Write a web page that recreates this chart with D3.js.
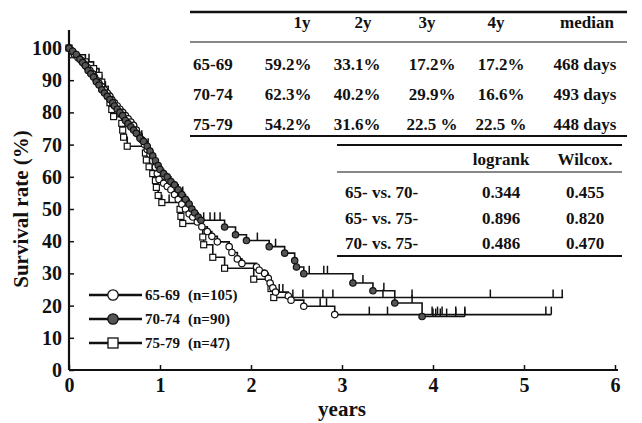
<!DOCTYPE html>
<html>
<head>
<meta charset="utf-8">
<script src="https://cdn.jsdelivr.net/npm/d3@7"></script>
<style>
  body { margin: 0; background: #fff; }
  svg text { font-family: "Liberation Serif", "Times New Roman", serif; font-weight: bold; fill: #111; }
</style>
</head>
<body>
<div id="chart"></div>
<script>
// ---- data ----
// Kaplan-Meier events [years, survival %] for each age group
var g65Events = [[0.03,99],[0.06,98],[0.1,97],[0.14,96],[0.17,95],[0.2,94],[0.23,93],[0.26,92],[0.28,91],[0.3,90],
  [0.33,89],[0.36,88],[0.39,87],[0.42,86],[0.45,85],[0.47,84],[0.5,83],[0.53,82],[0.56,81],[0.59,80],
  [0.62,79],[0.65,78],[0.68,77],[0.71,76],[0.74,74.5],[0.77,73],[0.8,71.5],[0.83,70],[0.86,68.5],[0.89,67],
  [0.92,65],[0.95,63],[0.97,61],[0.99,59.2],[1.04,58],[1.08,57],[1.12,56],[1.16,54.5],[1.2,53],[1.24,51.5],
  [1.28,50],[1.32,48.5],[1.36,47.5],[1.41,46],[1.46,44.5],[1.52,43],[1.57,41.5],[1.63,39.8],[1.76,38.3],[1.79,36.5],
  [1.85,34.5],[1.9,33.1],[2.06,32],[2.09,31],[2.15,30],[2.19,28.5],[2.21,27],[2.24,25.5],[2.27,24.2],[2.41,23],
  [2.44,21.7],[2.58,19.8],[2.92,17.2]];
var g65Censor = [2.31, 2.35, 2.76, 2.83, 3.3, 3.5, 3.99, 4.05, 4.1, 4.25, 4.35, 5.24, 5.3];
var g65End = 5.3;

var g70Events = [[0.04,99],[0.08,98],[0.12,96.5],[0.15,95.5],[0.18,94.5],[0.21,93],[0.24,92],[0.27,91],[0.3,89.5],[0.33,88.5],
  [0.36,87],[0.39,86],[0.42,85],[0.45,84],[0.48,83],[0.5,82],[0.53,81],[0.56,80],[0.59,79],[0.62,77.5],
  [0.65,76.5],[0.68,75.5],[0.71,74.5],[0.74,73.5],[0.78,72],[0.82,71],[0.86,69.5],[0.89,68],[0.92,66.5],[0.95,65],
  [0.98,63.5],[1.0,62.3],[1.04,61],[1.08,60],[1.12,58.5],[1.16,57.5],[1.2,56],[1.24,54.5],[1.28,53],[1.32,51.5],
  [1.35,50],[1.38,48.8],[1.42,47.5],[1.45,46.5],[1.71,44.4],[1.83,42],[1.95,40.2],[2.2,38.3],[2.37,36.3],[2.48,34],
  [2.5,32],[2.58,29.9],[3.12,27],[3.34,24.6],[3.58,20.8],[3.88,16.6]];
var g70Censor = [0.8, 0.87, 1.25, 1.48, 1.55, 1.6, 1.66, 2.07, 2.27, 2.64, 2.8, 2.84, 3.23, 3.46, 3.77, 4.0, 4.03, 4.08, 4.15, 4.25, 4.35];
var g70End = 4.35;

var g75Events = [[0.04,97.9],[0.18,95.7],[0.27,93.6],[0.33,91.5],[0.36,89.4],[0.4,87.2],[0.43,85.1],[0.45,83],[0.47,80.9],[0.49,78.7],
  [0.58,76.6],[0.59,74.5],[0.6,72.3],[0.64,69.5],[0.84,67.4],[0.85,65.2],[0.88,63.1],[0.92,61],[0.95,58.8],[0.96,56.7],
  [0.98,54.2],[1.02,52],[1.22,49.9],[1.23,47.7],[1.25,45.5],[1.47,41.3],[1.48,38.9],[1.58,35],[1.71,31.6],[2.03,28.2],
  [2.22,25.3],[2.25,22.5]];
var g75Censor = [0.22, 1.1, 2.46, 2.57, 2.79, 2.9, 3.45, 3.77, 4.63, 5.32, 5.42];
var g75End = 5.43;

var legendNames = ["65-69", "70-74", "75-79"];
var legendN = ["(n=105)", "(n=90)", "(n=47)"];

var survHeaders = ["1y", "2y", "3y", "4y", "median"];
var survRows = ["65-69", "70-74", "75-79"];
var survValues = [
  ["59.2%", "33.1%", "17.2%", "17.2%", "468 days"],
  ["62.3%", "40.2%", "29.9%", "16.6%", "493 days"],
  ["54.2%", "31.6%", "22.5 %", "22.5 %", "448 days"]
];

var testHeaders = ["logrank", "Wilcox."];
var testRows = ["65- vs. 70-", "65- vs. 75-", "70- vs. 75-"];
var testValues = [["0.344", "0.455"], ["0.896", "0.820"], ["0.486", "0.470"]];

var xTicks = [0, 1, 2, 3, 4, 5, 6];
var yTicks = [0, 10, 20, 30, 40, 50, 60, 70, 80, 90, 100];

// ---- chart ----
var svgWidth = 642, svgHeight = 423;
var svg = d3.select("#chart").append("svg")
  .attr("width", svgWidth)
  .attr("height", svgHeight);
svg.append("rect").attr("width", svgWidth).attr("height", svgHeight).attr("fill", "#fff");

var x = d3.scaleLinear().domain([0, 6]).range([69, 615]);
var y = d3.scaleLinear().domain([0, 100]).range([370, 48]);

// axes
var xAxis = svg.append("g")
  .attr("transform", "translate(0," + y(0) + ")")
  .call(d3.axisBottom(x).tickValues(xTicks).tickFormat(d3.format("d")).tickSize(-5).tickSizeOuter(0).tickPadding(8));
xAxis.select(".domain").remove();
xAxis.selectAll("line").attr("stroke", "#111").attr("stroke-width", 1.5);
xAxis.selectAll("text").style("font-size", "20px").attr("fill", "#111");

var yAxis = svg.append("g")
  .attr("transform", "translate(" + x(0) + ",0)")
  .call(d3.axisLeft(y).tickValues(yTicks).tickSize(-5).tickSizeOuter(0).tickPadding(7));
yAxis.select(".domain").remove();
yAxis.selectAll("line").attr("stroke", "#111").attr("stroke-width", 1.5);
yAxis.selectAll("text").style("font-size", "20px").attr("fill", "#111");

// axis lines
svg.append("line").attr("x1", x(0)).attr("x2", x(6) + 3).attr("y1", y(0)).attr("y2", y(0))
  .attr("stroke", "#111").attr("stroke-width", 2.2);
svg.append("line").attr("x1", x(0)).attr("x2", x(0)).attr("y1", 30).attr("y2", y(0))
  .attr("stroke", "#111").attr("stroke-width", 2.2);

svg.append("text").attr("x", x(3)).attr("y", 416).attr("text-anchor", "middle")
  .style("font-size", "21px").text("years");
svg.append("text").attr("transform", "translate(28," + y(50) + ") rotate(-90)")
  .attr("text-anchor", "middle").style("font-size", "21px").text("Survival rate (%)");

// KM helpers
function levelAt(events, t) {
  var s = 100;
  events.forEach(function(e) { if (e[0] <= t) s = e[1]; });
  return s;
}
var stepLine = d3.line().x(function(d) { return x(d[0]); }).y(function(d) { return y(d[1]); })
  .curve(d3.curveStepAfter);

function drawCurve(events, censor, end, shape) {
  var g = svg.append("g");
  var pts = [[0, 100]].concat(events);
  pts.push([end, events[events.length - 1][1]]);
  g.append("path").datum(pts).attr("d", stepLine)
    .attr("fill", "none").attr("stroke", "#111").attr("stroke-width", 1.6);
  g.selectAll(".cens").data(censor).enter().append("line")
    .attr("x1", function(d) { return x(d); }).attr("x2", function(d) { return x(d); })
    .attr("y1", function(d) { return y(levelAt(events, d)); })
    .attr("y2", function(d) { return y(levelAt(events, d)) - 8; })
    .attr("stroke", "#111").attr("stroke-width", 1.5);
  var marks = [[0, 100]].concat(events);
  if (shape === "square") {
    g.selectAll(".mk").data(marks).enter().append("rect")
      .attr("x", function(d) { return x(d[0]) - 3; }).attr("y", function(d) { return y(d[1]) - 3; })
      .attr("width", 6).attr("height", 6)
      .attr("fill", "#fff").attr("stroke", "#111").attr("stroke-width", 1.2);
  } else {
    g.selectAll(".mk").data(marks).enter().append("circle")
      .attr("cx", function(d) { return x(d[0]); }).attr("cy", function(d) { return y(d[1]); })
      .attr("r", 3.2)
      .attr("fill", shape === "filled" ? "#555" : "#fff").attr("stroke", "#111").attr("stroke-width", 1.2);
  }
}
drawCurve(g75Events, g75Censor, g75End, "square");
drawCurve(g65Events, g65Censor, g65End, "open");
drawCurve(g70Events, g70Censor, g70End, "filled");

// legend
var shapes = ["open", "filled", "square"];
var legendY = [295, 319, 343];
legendNames.forEach(function(name, i) {
  var ly = legendY[i];
  svg.append("line").attr("x1", 89).attr("x2", 142).attr("y1", ly).attr("y2", ly)
    .attr("stroke", "#111").attr("stroke-width", 2.5);
  if (shapes[i] === "square") {
    svg.append("rect").attr("x", 108).attr("y", ly - 5).attr("width", 10).attr("height", 10)
      .attr("fill", "#fff").attr("stroke", "#111").attr("stroke-width", 1.3);
  } else {
    svg.append("circle").attr("cx", 113).attr("cy", ly).attr("r", 5.2)
      .attr("fill", shapes[i] === "filled" ? "#555" : "#fff").attr("stroke", "#111").attr("stroke-width", 1.3);
  }
  svg.append("text").attr("x", 145).attr("y", ly + 5).style("font-size", "15px").text(name);
  svg.append("text").attr("x", 188).attr("y", ly + 5).style("font-size", "15px").text(legendN[i]);
});

// survival table
svg.append("line").attr("x1", 190).attr("x2", 627).attr("y1", 12).attr("y2", 12).attr("stroke", "#111").attr("stroke-width", 2.5);
svg.append("line").attr("x1", 190).attr("x2", 627).attr("y1", 42).attr("y2", 42).attr("stroke", "#111").attr("stroke-width", 1);
svg.append("line").attr("x1", 190).attr("x2", 627).attr("y1", 136).attr("y2", 136).attr("stroke", "#111").attr("stroke-width", 2.2);
var headX = [302, 363, 427, 496, 587];
var valX = [288, 357, 432, 501, 585];
var rowBase = [70, 100, 130];
survHeaders.forEach(function(h, j) {
  svg.append("text").attr("x", headX[j]).attr("y", 28).attr("text-anchor", "middle").style("font-size", "17px").text(h);
});
survRows.forEach(function(r, i) {
  svg.append("text").attr("x", 193).attr("y", rowBase[i]).style("font-size", "17px").text(r);
  survValues[i].forEach(function(v, j) {
    svg.append("text").attr("x", valX[j]).attr("y", rowBase[i]).attr("text-anchor", "middle")
      .style("font-size", "17px").text(v);
  });
});

// test table
svg.append("line").attr("x1", 337).attr("x2", 622).attr("y1", 145).attr("y2", 145).attr("stroke", "#111").attr("stroke-width", 2.2);
svg.append("line").attr("x1", 337).attr("x2", 622).attr("y1", 172).attr("y2", 172).attr("stroke", "#111").attr("stroke-width", 1);
svg.append("line").attr("x1", 337).attr("x2", 622).attr("y1", 256).attr("y2", 256).attr("stroke", "#111").attr("stroke-width", 2.2);
var testX = [501, 585];
var testBase = [198, 224, 249];
testHeaders.forEach(function(h, j) {
  svg.append("text").attr("x", testX[j]).attr("y", 165).attr("text-anchor", "middle").style("font-size", "17px").text(h);
});
testRows.forEach(function(r, i) {
  svg.append("text").attr("x", 345).attr("y", testBase[i]).style("font-size", "17px").text(r);
  testValues[i].forEach(function(v, j) {
    svg.append("text").attr("x", testX[j]).attr("y", testBase[i]).attr("text-anchor", "middle")
      .style("font-size", "17px").text(v);
  });
});
</script>
</body>
</html>
